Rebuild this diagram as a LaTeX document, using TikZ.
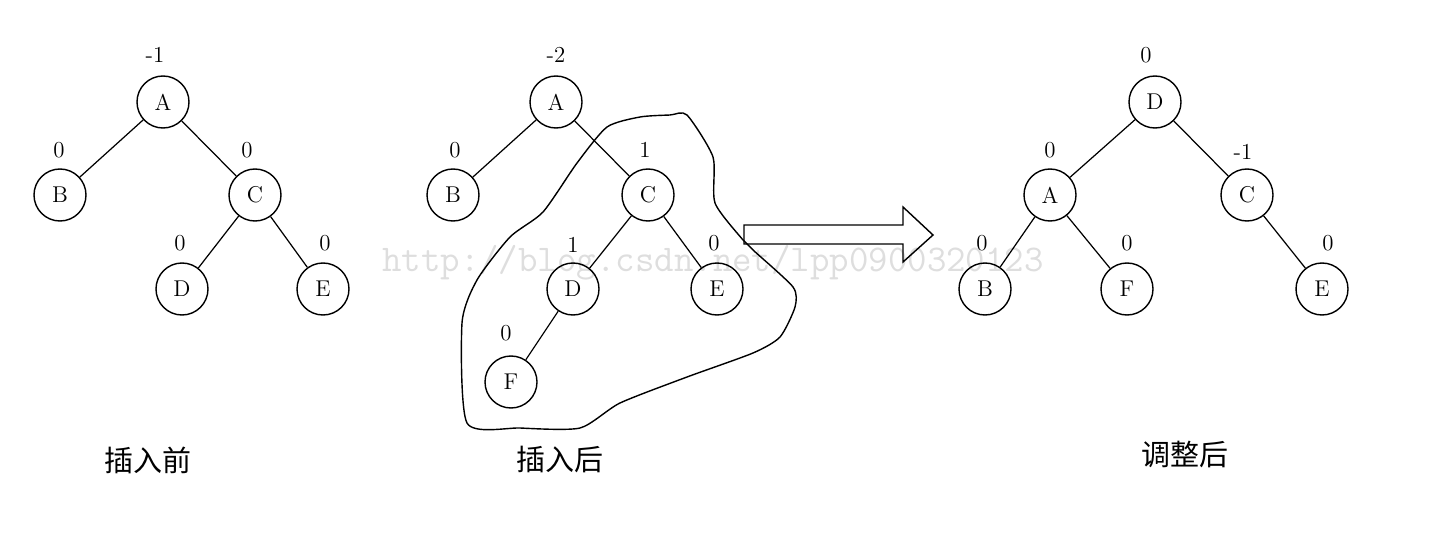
\documentclass[tikz,border=0pt]{standalone}
\usepackage{fontspec}
\newfontfamily\cjk{Noto Sans CJK SC}
\begin{document}
\begin{tikzpicture}[
  vertex/.style={draw, circle, line width=0.8pt, minimum size=1.04cm, inner sep=0pt, font=\fontsize{13}{15}\selectfont},
  bf/.style={font=\fontsize{13}{15}\selectfont},
  caption/.style={font=\cjk\fontsize{16.5}{18}\selectfont},
  edge/.style={line width=0.7pt}
]

\useasboundingbox (0, 0) rectangle (28.84, 10.96);

\node[text=black!13, font=\ttfamily\fontsize{21.5}{23}\selectfont] (mark) at (14.26, 5.70) {http://blog.csdn.net/lpp0900320123};

% before insertion
\node[vertex] (a1) at (3.26, 8.92) {A};
\node[vertex] (b1) at (1.20, 7.06) {B};
\node[vertex] (c1) at (5.10, 7.06) {C};
\node[vertex] (d1) at (3.64, 5.18) {D};
\node[vertex] (e1) at (6.46, 5.18) {E};

\draw[edge] (a1) -- (b1);
\draw[edge] (a1) -- (c1);
\draw[edge] (c1) -- (d1);
\draw[edge] (c1) -- (e1);

\node[bf] (ba1) at (3.10, 9.86) {-1};
\node[bf] (bb1) at (1.18, 7.96) {0};
\node[bf] (bc1) at (4.94, 7.96) {0};
\node[bf] (bd1) at (3.60, 6.10) {0};
\node[bf] (be1) at (6.50, 6.10) {0};

% after insertion
\node[vertex] (a2) at (11.12, 8.92) {A};
\node[vertex] (b2) at (9.06, 7.06) {B};
\node[vertex] (c2) at (12.96, 7.06) {C};
\node[vertex] (d2) at (11.46, 5.18) {D};
\node[vertex] (e2) at (14.34, 5.18) {E};
\node[vertex] (f2) at (10.22, 3.32) {F};

\draw[edge] (a2) -- (b2);
\draw[edge] (a2) -- (c2);
\draw[edge] (c2) -- (d2);
\draw[edge] (c2) -- (e2);
\draw[edge] (d2) -- (f2);

\node[bf] (ba2) at (11.12, 9.86) {-2};
\node[bf] (bb2) at (9.10, 7.96) {0};
\node[bf] (bc2) at (12.90, 7.96) {1};
\node[bf] (bd2) at (11.46, 6.06) {1};
\node[bf] (be2) at (14.28, 6.10) {0};
\node[bf] (bf2) at (10.12, 4.30) {0};

\draw[line width=0.8pt] plot[smooth cycle, tension=0.4] coordinates {
  (13.74,8.66) (14.26,7.82) (14.30,6.90) (14.86,6.16) (15.06,5.96)
  (15.86,5.22) (15.90,4.82) (15.60,4.22) (15.06,3.90) (13.74,3.42)
  (12.40,2.90) (11.60,2.40) (10.40,2.40) (9.34,2.50) (9.24,4.50)
  (9.54,5.36) (10.20,6.22) (10.86,6.72) (11.54,7.70) (12.14,8.42)
  (12.80,8.62) (13.40,8.66)};

\draw[line width=0.8pt] (14.88, 6.46) -- (18.06, 6.46) -- (18.06, 6.82) -- (18.66, 6.26)
  -- (18.06, 5.72) -- (18.06, 6.08) -- (14.88, 6.08) -- cycle;

% after rebalancing
\node[vertex] (d3) at (23.10, 8.92) {D};
\node[vertex] (a3) at (21.00, 7.06) {A};
\node[vertex] (c3) at (24.94, 7.06) {C};
\node[vertex] (b3) at (19.70, 5.18) {B};
\node[vertex] (f3) at (22.54, 5.18) {F};
\node[vertex] (e3) at (26.44, 5.18) {E};

\draw[edge] (d3) -- (a3);
\draw[edge] (d3) -- (c3);
\draw[edge] (a3) -- (b3);
\draw[edge] (a3) -- (f3);
\draw[edge] (c3) -- (e3);

\node[bf] (bd3) at (22.92, 9.86) {0};
\node[bf] (ba3) at (21.00, 7.96) {0};
\node[bf] (bc3) at (24.86, 7.92) {-1};
\node[bf] (bb3) at (19.64, 6.10) {0};
\node[bf] (bf3) at (22.54, 6.10) {0};
\node[bf] (be3) at (26.56, 6.10) {0};

\node[caption] (cap1) at (2.96, 1.76) {插入前};
\node[caption] (cap2) at (11.20, 1.76) {插入后};
\node[caption] (cap3) at (23.70, 1.86) {调整后};

\end{tikzpicture}
\end{document}
